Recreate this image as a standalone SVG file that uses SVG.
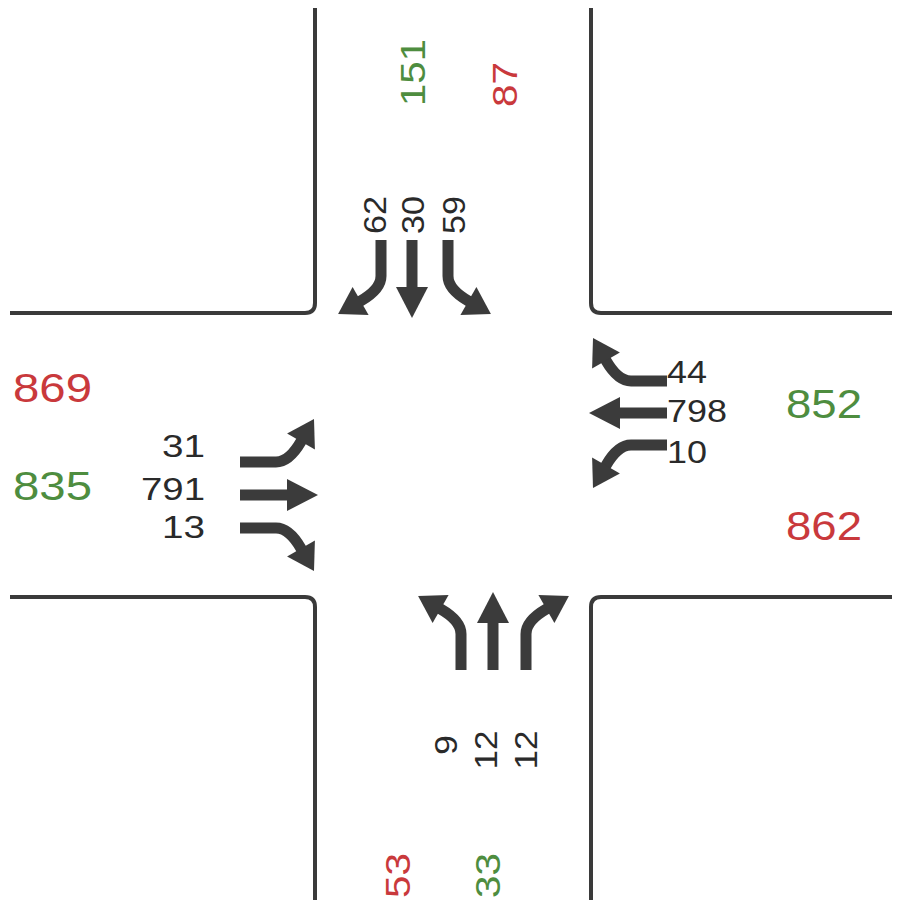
<svg xmlns="http://www.w3.org/2000/svg" xmlns:xlink="http://www.w3.org/1999/xlink" width="902" height="900" viewBox="0 0 902 900">
  <style>
    .road { fill: none; stroke: #3a3a3a; stroke-width: 4; stroke-linecap: butt; stroke-linejoin: round; }
    .shaft { fill: none; stroke: #3b3b3b; stroke-width: 11; stroke-linecap: butt; }
    .head { fill: #3b3b3b; }
    .vol { font-family: "Liberation Sans", Arial, sans-serif; font-size: 31px; fill: #2a2a2a; }
    .tot { font-family: "Liberation Sans", Arial, sans-serif; font-size: 40px; }
    .totv { font-family: "Liberation Sans", Arial, sans-serif; font-size: 35px; }
    .in { fill: #4e8d3f; }
    .out { fill: #c9393c; }
  </style>
  <defs>
    <!-- straight lane arrow: shaft runs along +y from the origin, head points +y -->
    <g id="arrow-straight">
      <path class="shaft" d="M0,0 V50"/>
      <polygon class="head" points="-16,47 16,47 0,78"/>
    </g>
    <!-- turning lane arrow: shaft runs along +y, then bends toward -x -->
    <g id="arrow-turn">
      <path class="shaft" d="M0,0 V36 Q0,49.2 -20.4,61 L-23,62.5"/>
      <polygon class="head" points="-12.4,74.9 -28.4,47.1 -42.9,74"/>
    </g>
  </defs>

  <rect width="902" height="900" fill="#ffffff"/>

  <!-- kerb lines of the four corners -->
  <g id="kerbs">
    <path id="kerb-nw" class="road" d="M315,8 V303 Q315,313 305,313 H10"/>
    <path id="kerb-ne" class="road" d="M591,8 V303 Q591,313 601,313 H892"/>
    <path id="kerb-sw" class="road" d="M10,597 H305 Q315,597 315,607 V900"/>
    <path id="kerb-se" class="road" d="M892,597 H601 Q591,597 591,607 V900"/>
  </g>

  <!-- lane arrows for each approach -->
  <g id="connectors">
    <g id="north-approach">
      <use xlink:href="#arrow-turn" transform="translate(381,240)"/>
      <use xlink:href="#arrow-straight" transform="translate(412,240)"/>
      <use xlink:href="#arrow-turn" transform="translate(448,240) scale(-1,1)"/>
    </g>
    <g id="west-approach">
      <use xlink:href="#arrow-turn" transform="translate(240,462) scale(1,-1) rotate(-90)"/>
      <use xlink:href="#arrow-straight" transform="translate(240,495) rotate(-90)"/>
      <use xlink:href="#arrow-turn" transform="translate(240,528) rotate(-90)"/>
    </g>
    <g id="east-approach">
      <use xlink:href="#arrow-turn" transform="translate(667,381) rotate(90)"/>
      <use xlink:href="#arrow-straight" transform="translate(667,413) rotate(90)"/>
      <use xlink:href="#arrow-turn" transform="translate(667,445) scale(1,-1) rotate(90)"/>
    </g>
    <g id="south-approach">
      <use xlink:href="#arrow-turn" transform="translate(461,670) scale(-1,1) rotate(180)"/>
      <use xlink:href="#arrow-straight" transform="translate(493,670) rotate(180)"/>
      <use xlink:href="#arrow-turn" transform="translate(526,670) rotate(180)"/>
    </g>
  </g>

  <!-- turning volumes -->
  <g id="north-volumes">
    <text class="vol" transform="translate(386,234) rotate(-90)" textLength="38" lengthAdjust="spacingAndGlyphs">62</text>
    <text class="vol" transform="translate(424,234) rotate(-90)" textLength="38" lengthAdjust="spacingAndGlyphs">30</text>
    <text class="vol" transform="translate(465,234) rotate(-90)" textLength="38" lengthAdjust="spacingAndGlyphs">59</text>
  </g>
  <g id="west-volumes">
    <text class="vol" x="205" y="457" text-anchor="end" textLength="43" lengthAdjust="spacingAndGlyphs">31</text>
    <text class="vol" x="205" y="500" text-anchor="end" textLength="64" lengthAdjust="spacingAndGlyphs">791</text>
    <text class="vol" x="205" y="538" text-anchor="end" textLength="43" lengthAdjust="spacingAndGlyphs">13</text>
  </g>
  <g id="east-volumes">
    <text class="vol" x="667" y="383" textLength="40" lengthAdjust="spacingAndGlyphs">44</text>
    <text class="vol" x="667" y="422" textLength="60" lengthAdjust="spacingAndGlyphs">798</text>
    <text class="vol" x="667" y="463" textLength="40" lengthAdjust="spacingAndGlyphs">10</text>
  </g>
  <g id="south-volumes">
    <text class="vol" transform="translate(457,745) rotate(-90)" text-anchor="middle" textLength="20" lengthAdjust="spacingAndGlyphs">9</text>
    <text class="vol" transform="translate(497,750) rotate(-90)" text-anchor="middle" textLength="39" lengthAdjust="spacingAndGlyphs">12</text>
    <text class="vol" transform="translate(537,750) rotate(-90)" text-anchor="middle" textLength="39" lengthAdjust="spacingAndGlyphs">12</text>
  </g>

  <!-- approach totals: green entering, red leaving -->
  <g id="totals">
    <text class="totv in" transform="translate(425,106) rotate(-90)" textLength="67" lengthAdjust="spacingAndGlyphs">151</text>
    <text class="totv out" transform="translate(517,107) rotate(-90)" textLength="45" lengthAdjust="spacingAndGlyphs">87</text>
    <text class="tot out" x="13" y="402" textLength="79" lengthAdjust="spacingAndGlyphs">869</text>
    <text class="tot in" x="13" y="500" textLength="79" lengthAdjust="spacingAndGlyphs">835</text>
    <text class="tot in" x="786" y="418" textLength="76" lengthAdjust="spacingAndGlyphs">852</text>
    <text class="tot out" x="786" y="540" textLength="76" lengthAdjust="spacingAndGlyphs">862</text>
    <text class="totv out" transform="translate(410,898) rotate(-90)" textLength="45" lengthAdjust="spacingAndGlyphs">53</text>
    <text class="totv in" transform="translate(500,898) rotate(-90)" textLength="45" lengthAdjust="spacingAndGlyphs">33</text>
  </g>
</svg>
